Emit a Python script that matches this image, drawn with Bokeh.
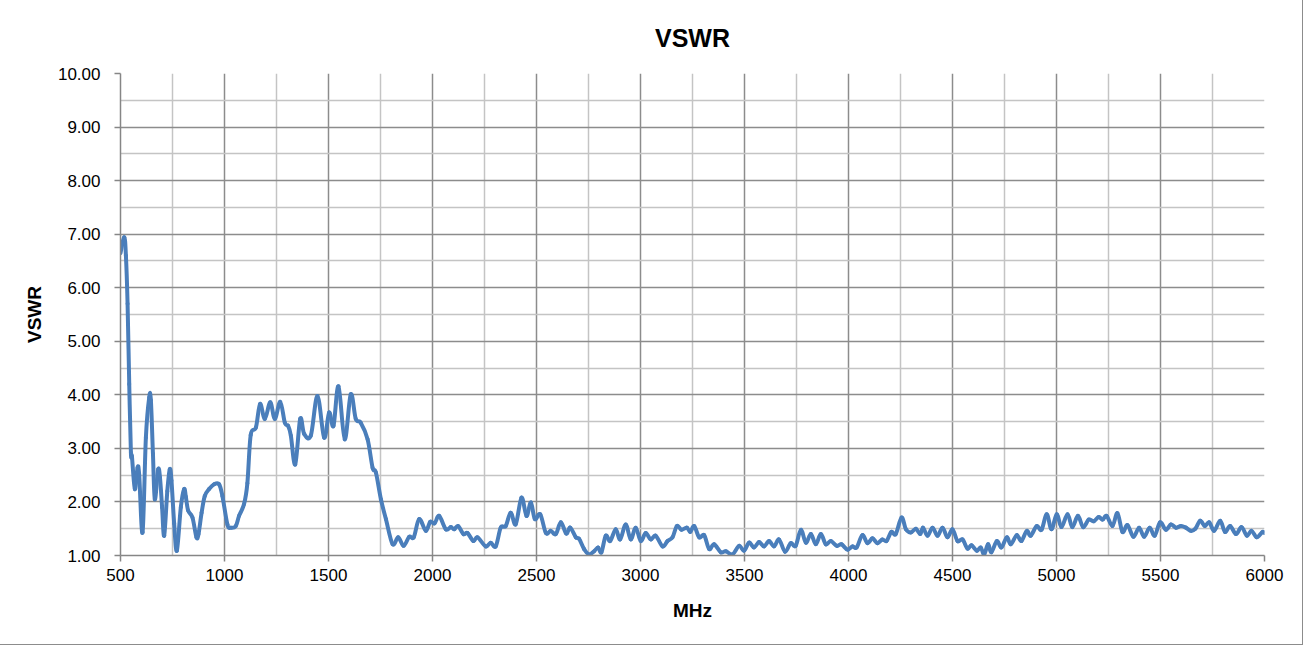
from bokeh.plotting import figure
from bokeh.models import FixedTicker, Range1d, ColumnDataSource, CustomJSTickFormatter
from bokeh.embed import file_html
from bokeh.resources import INLINE

freq_mhz = [500, 518, 526, 534, 542, 550, 555, 569, 582, 590, 606, 622, 638, 646, 656, 665, 681, 690, 700, 710,
            725, 737, 745, 758, 771, 790, 806, 814, 825, 846, 865, 875, 890, 905, 926, 950, 974, 990, 1014, 1030,
            1054, 1070, 1094, 1110, 1126, 1151, 1171, 1194, 1220, 1242, 1268, 1290, 1306, 1319, 1340, 1364, 1383,
            1415, 1447, 1479, 1503, 1524, 1548, 1578, 1607, 1631, 1655, 1688, 1712, 1728, 1752, 1776, 1808, 1835,
            1861, 1888, 1910, 1936, 1968, 1989, 2010, 2032, 2064, 2088, 2104, 2123, 2149, 2168, 2197, 2216, 2256,
            2280, 2304, 2328, 2352, 2376, 2400, 2428, 2452, 2473, 2492, 2518, 2545, 2569, 2593, 2617, 2643, 2662,
            2689, 2705, 2729, 2753, 2777, 2796, 2812, 2833, 2854, 2881, 2902, 2929, 2953, 2977, 3001, 3025, 3049,
            3073, 3106, 3130, 3154, 3175, 3197, 3223, 3239, 3258, 3282, 3306, 3330, 3354, 3386, 3410, 3442, 3474,
            3498, 3522, 3546, 3570, 3594, 3618, 3642, 3666, 3695, 3722, 3746, 3771, 3795, 3819, 3843, 3867, 3891,
            3915, 3944, 3966, 3995, 4019, 4039, 4067, 4091, 4115, 4139, 4163, 4183, 4206, 4227, 4255, 4276, 4300,
            4324, 4345, 4358, 4380, 4404, 4428, 4452, 4476, 4500, 4524, 4548, 4572, 4591, 4617, 4636, 4652, 4671,
            4687, 4713, 4735, 4761, 4780, 4809, 4831, 4857, 4876, 4905, 4928, 4953, 4976, 5001, 5024, 5053, 5076,
            5103, 5128, 5155, 5179, 5203, 5222, 5241, 5269, 5293, 5317, 5341, 5370, 5397, 5421, 5448, 5472, 5498,
            5526, 5550, 5574, 5598, 5622, 5646, 5668, 5691, 5713, 5734, 5758, 5787, 5810, 5835, 5863, 5890, 5915,
            5938, 5963, 5990, 6000]

vswr = [6.65, 6.94, 6.6, 5.7, 4.2, 2.92, 2.85, 2.24, 2.64, 2.5, 1.43, 3.2, 3.95, 3.9, 2.9, 2.05, 2.61, 2.45, 1.9, 1.37,
        2.2, 2.61, 2.4, 1.6, 1.09, 1.9, 2.24, 2.1, 1.84, 1.71, 1.34, 1.4, 1.8, 2.11, 2.24, 2.33, 2.33, 2.11, 1.58, 1.52,
        1.55, 1.74, 1.96, 2.35, 3.25, 3.39, 3.83, 3.55, 3.86, 3.55, 3.87, 3.48, 3.42, 3.24, 2.70, 3.55, 3.27,
        3.24, 3.98, 3.2, 3.67, 3.42, 4.16, 3.17, 4.01, 3.55, 3.48, 3.17, 2.64, 2.55, 2.05, 1.68, 1.21, 1.34,
        1.18, 1.35, 1.34, 1.68, 1.46, 1.63, 1.6, 1.74, 1.49, 1.53, 1.49, 1.55, 1.40, 1.42, 1.27, 1.34, 1.17,
        1.24, 1.17, 1.52, 1.55, 1.80, 1.58, 2.08, 1.74, 1.99, 1.68, 1.77, 1.42, 1.46, 1.40, 1.62, 1.41, 1.52,
        1.34, 1.31, 1.12, 1.02, 1.08, 1.15, 1.06, 1.37, 1.27, 1.49, 1.30, 1.58, 1.30, 1.52, 1.27, 1.42, 1.30,
        1.37, 1.17, 1.27, 1.34, 1.55, 1.48, 1.52, 1.44, 1.55, 1.34, 1.38, 1.12, 1.21, 1.06, 1.08, 1.02, 1.18,
        1.09, 1.24, 1.15, 1.25, 1.17, 1.27, 1.17, 1.30, 1.07, 1.23, 1.18, 1.48, 1.24, 1.40, 1.21, 1.40, 1.21,
        1.27, 1.18, 1.21, 1.11, 1.17, 1.15, 1.38, 1.23, 1.32, 1.23, 1.30, 1.27, 1.44, 1.40, 1.71, 1.49, 1.43,
        1.50, 1.40, 1.52, 1.37, 1.52, 1.37, 1.52, 1.34, 1.49, 1.27, 1.30, 1.13, 1.19, 1.09, 1.15, 1.02, 1.21,
        1.06, 1.27, 1.15, 1.34, 1.21, 1.38, 1.27, 1.46, 1.37, 1.55, 1.48, 1.77, 1.49, 1.77, 1.53, 1.77, 1.53,
        1.74, 1.53, 1.67, 1.64, 1.72, 1.67, 1.74, 1.55, 1.79, 1.44, 1.57, 1.35, 1.52, 1.35, 1.52, 1.37, 1.62,
        1.48, 1.58, 1.52, 1.55, 1.52, 1.46, 1.50, 1.65, 1.55, 1.62, 1.46, 1.65, 1.44, 1.55, 1.40, 1.53, 1.37,
        1.46, 1.34, 1.44, 1.42]

x_major = [500, 1000, 1500, 2000, 2500, 3000, 3500, 4000, 4500, 5000, 5500, 6000]
x_minor = [750, 1250, 1750, 2250, 2750, 3250, 3750, 4250, 4750, 5250, 5750]
y_major = [1, 2, 3, 4, 5, 6, 7, 8, 9, 10]
y_minor = [1.5, 2.5, 3.5, 4.5, 5.5, 6.5, 7.5, 8.5, 9.5]

# Smoothed-line rendering (like the spreadsheet's "smoothed line"): one cubic
# Bezier per segment, control points derived from neighbouring data points.
n = len(freq_mhz)
t = 1.0 / 6.0
seg = dict(x0=[], y0=[], x1=[], y1=[], cx0=[], cy0=[], cx1=[], cy1=[])
for i in range(n - 1):
    xa, ya = freq_mhz[i], vswr[i]
    xb, yb = freq_mhz[i + 1], vswr[i + 1]
    xp, yp = (freq_mhz[i - 1], vswr[i - 1]) if i > 0 else (xa, ya)
    xn, yn = (freq_mhz[i + 2], vswr[i + 2]) if i + 2 < n else (xb, yb)
    seg["x0"].append(xa); seg["y0"].append(ya)
    seg["x1"].append(xb); seg["y1"].append(yb)
    seg["cx0"].append(xa + (xb - xp) * t); seg["cy0"].append(ya + (yb - yp) * t)
    seg["cx1"].append(xb - (xn - xa) * t); seg["cy1"].append(yb - (yn - ya) * t)
src = ColumnDataSource(seg)

p = figure(width=1299, height=641, output_backend="svg", toolbar_location=None,
           x_range=Range1d(500, 6000), y_range=Range1d(1, 10),
           title="VSWR", x_axis_label="MHz", y_axis_label="VSWR",
           min_border_left=120, min_border_right=35, min_border_top=73, min_border_bottom=86,
           styles={"outline": "1px solid #8c8c8c", "outline-offset": "3px"})

p.outline_line_color = None
p.background_fill_color = "white"
p.border_fill_color = "white"

font = "Liberation Sans"
p.title.text_font = font
p.title.text_font_size = "25px"
p.title.text_font_style = "bold"
p.title.align = "center"
p.title.vertical_align = "top"
p.title.text_color = "black"
p.title.standoff = 39

p.xaxis.ticker = FixedTicker(ticks=x_major, minor_ticks=x_minor)
p.yaxis.ticker = FixedTicker(ticks=y_major, minor_ticks=y_minor)
p.yaxis.formatter = CustomJSTickFormatter(code="return tick.toFixed(2);")

for ax in (p.xaxis, p.yaxis):
    ax.axis_line_color = "#868686"
    ax.axis_line_width = 1.5
    ax.major_tick_line_color = "#868686"
    ax.major_tick_line_width = 1.5
    ax.major_tick_out = 6
    ax.major_tick_in = 0
    ax.minor_tick_line_color = None
    ax.major_label_text_font = font
    ax.major_label_text_font_size = "17px"
    ax.major_label_text_color = "black"
    ax.axis_label_text_font = font
    ax.axis_label_text_font_size = "19px"
    ax.axis_label_text_font_style = "bold"
    ax.axis_label_text_color = "black"

p.xaxis.major_label_standoff = 7
p.yaxis.major_label_standoff = 14
p.xaxis.axis_label_standoff = 16
p.yaxis.axis_label_standoff = 10

for g in (p.xgrid, p.ygrid):
    g.grid_line_color = "#8c8c8c"
    g.grid_line_width = 1.5
    g.minor_grid_line_color = "#c4c4c4"
    g.minor_grid_line_width = 1.5

p.bezier(x0="x0", y0="y0", x1="x1", y1="y1", cx0="cx0", cy0="cy0", cx1="cx1", cy1="cy1",
         source=src, line_color="#4A7EBB", line_width=4, line_cap="round")

open("out.html", "w").write(file_html(p, INLINE))
